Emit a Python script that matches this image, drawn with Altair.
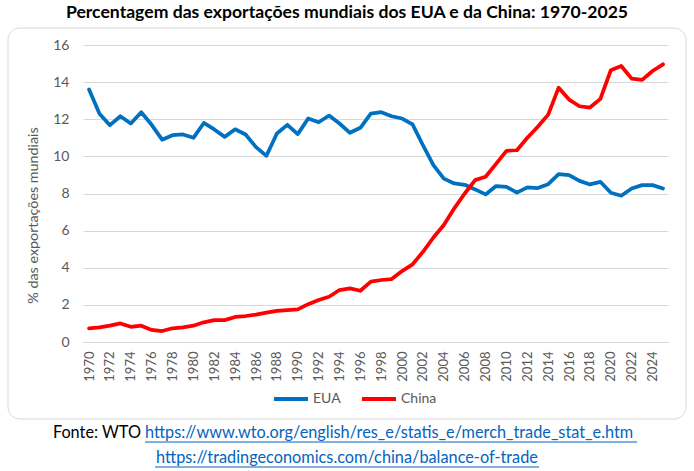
import altair as alt
import pandas as pd

years = list(range(1970, 2026))
eua = [13.6, 12.3, 11.68, 12.16, 11.77, 12.38, 11.7, 10.9, 11.14, 11.18,
       11.0, 11.8, 11.45, 11.05, 11.46, 11.18, 10.5, 10.03, 11.23, 11.7,
       11.2, 12.04, 11.84, 12.2, 11.77, 11.27, 11.54, 12.3, 12.38, 12.16,
       12.04, 11.72, 10.6, 9.53, 8.8, 8.54, 8.47, 8.22, 7.95, 8.4,
       8.36, 8.05, 8.33, 8.29, 8.5, 9.04, 8.99, 8.68, 8.49, 8.63,
       8.04, 7.88, 8.27, 8.45, 8.45, 8.27]
china = [0.74, 0.79, 0.88, 1.0, 0.82, 0.88, 0.65, 0.59, 0.74, 0.79,
         0.88, 1.06, 1.18, 1.18, 1.35, 1.4, 1.47, 1.58, 1.68, 1.72,
         1.76, 2.04, 2.26, 2.44, 2.8, 2.89, 2.76, 3.25, 3.34, 3.39,
         3.82, 4.18, 4.86, 5.63, 6.3, 7.2, 8.0, 8.72, 8.9, 9.6,
         10.3, 10.33, 11.0, 11.6, 12.25, 13.7, 13.06, 12.7, 12.63, 13.1,
         14.64, 14.87, 14.19, 14.12, 14.6, 14.96]
series_names = ["EUA", "China"]
series_colors = ["#0070C0", "#FF0000"]
x_ticks = list(range(1970, 2025, 2))
y_ticks = list(range(0, 17, 2))

title_text = "Percentagem das exportações mundiais dos EUA e da China: 1970-2025"
y_title = "% das exportações mundiais"
source_label = "Fonte: WTO"
link1 = "https://www.wto.org/english/res_e/statis_e/merch_trade_stat_e.htm"
link2 = "https://tradingeconomics.com/china/balance-of-trade"

FONT = "Lato"
GRAY = "#595959"

df = pd.DataFrame({
    "year": years * 2,
    "value": eua + china,
    "serie": ["EUA"] * len(years) + ["China"] * len(years),
    "order": [0] * len(years) + [1] * len(years),
})

W, H = 585, 297

border = alt.Chart(pd.DataFrame({"a": [0]})).mark_rect(
    fillOpacity=0, stroke="#D9D9D9", strokeWidth=1, cornerRadius=12
).encode(x=alt.value(-75), x2=alt.value(603), y=alt.value(-17), y2=alt.value(374))

lines = alt.Chart(df).mark_line(strokeWidth=3.75, strokeJoin="round", strokeCap="round").encode(
    x=alt.X("year:Q",
            scale=alt.Scale(domain=[1969.42, 2025.48], nice=False, zero=False),
            axis=alt.Axis(values=x_ticks, format="d", labelAngle=-90, title=None,
                          grid=False, ticks=False, domainColor="#D9D9D9",
                          labelColor=GRAY, labelFont=FONT, labelFontSize=13,
                          labelPadding=9, labelOverlap=False)),
    y=alt.Y("value:Q",
            scale=alt.Scale(domain=[0, 16], nice=False),
            axis=alt.Axis(values=y_ticks, title=y_title, grid=True, gridColor="#D9D9D9",
                          domain=False, ticks=False, labelColor=GRAY, labelFont=FONT,
                          labelFontSize=14, labelPadding=14, titleColor=GRAY,
                          titleFont=FONT, titleFontSize=14.3, titleFontWeight="normal",
                          titlePadding=12, titleY=170)),
    color=alt.Color("serie:N",
                    scale=alt.Scale(domain=series_names, range=series_colors),
                    legend=alt.Legend(orient="none", legendX=189, legendY=335,
                                      direction="horizontal", title=None,
                                      symbolType="stroke", symbolSize=1156,
                                      symbolStrokeWidth=4, labelFont=FONT,
                                      labelFontSize=14, labelColor=GRAY,
                                      labelOffset=3, columnPadding=13, padding=0)),
    detail="serie:N",
    order="order:Q",
)

title = alt.Chart(pd.DataFrame({"t": [title_text]})).mark_text(
    font=FONT, fontSize=17.6, fontWeight="bold", color="black", align="center", baseline="alphabetic"
).encode(text="t:N", x=alt.value(264), y=alt.value(-27))

src = alt.Chart(pd.DataFrame({"t": [source_label]})).mark_text(
    font=FONT, fontSize=16.3, color="black", align="right", baseline="middle"
).encode(text="t:N", x=alt.value(58), y=alt.value(388))

l1 = alt.Chart(pd.DataFrame({"t": [link1]})).mark_text(
    font=FONT, fontSize=16.3, color="#0563C1", align="left", baseline="middle"
).encode(text="t:N", x=alt.value(62), y=alt.value(388))

l2 = alt.Chart(pd.DataFrame({"t": [link2]})).mark_text(
    font=FONT, fontSize=16.3, color="#0563C1", align="center", baseline="middle"
).encode(text="t:N", x=alt.value(264), y=alt.value(413))

u1 = alt.Chart(pd.DataFrame({"a": [0]})).mark_rule(color="#0563C1", strokeWidth=1).encode(
    x=alt.value(62), x2=alt.value(554), y=alt.value(397))
u2 = alt.Chart(pd.DataFrame({"a": [0]})).mark_rule(color="#0563C1", strokeWidth=1).encode(
    x=alt.value(72), x2=alt.value(456), y=alt.value(422))

chart = alt.layer(border, lines, title, src, l1, l2, u1, u2).properties(
    width=W, height=H,
    autosize=alt.AutoSizeParams(type="none"),
    padding={"left": 83, "top": 45, "right": 26, "bottom": 129},
    background="white",
).configure_view(stroke=None)

chart.save("out.html", embed_options={"renderer": "svg", "actions": False})
